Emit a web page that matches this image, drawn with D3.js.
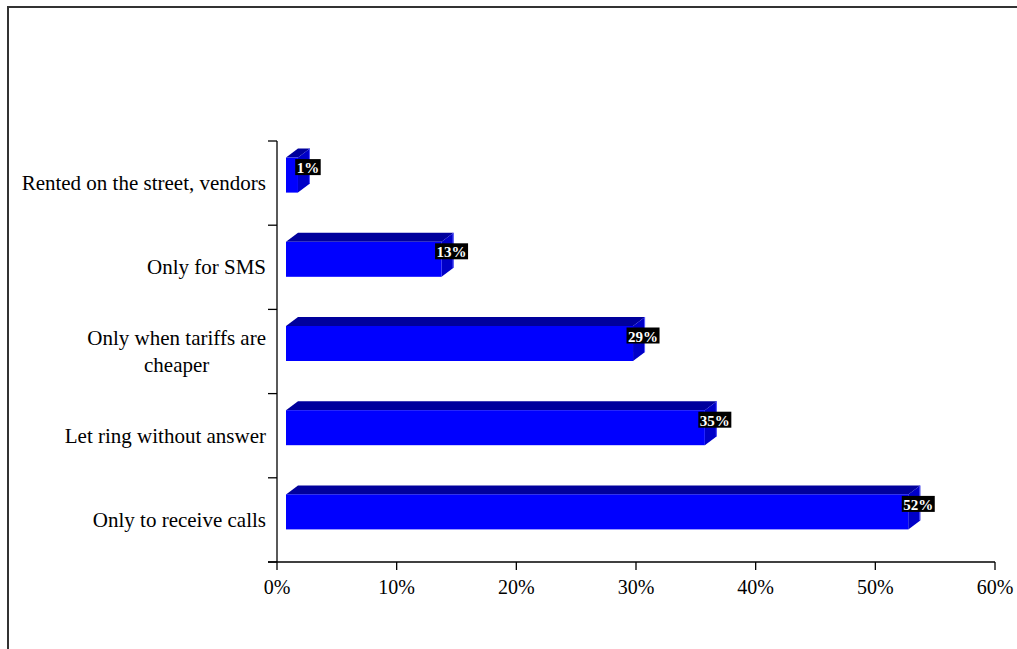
<!DOCTYPE html>
<html>
<head>
<meta charset="utf-8">
<script src="https://cdn.jsdelivr.net/npm/d3@7"></script>
<style>
  html, body { margin: 0; padding: 0; background: #fff; }
  svg { display: block; }
  text { font-family: "Liberation Serif", "Times New Roman", serif; }
</style>
</head>
<body>
<svg id="chart" width="1017" height="649"></svg>
<script>
// Reasons for using a mobile phone in a limited way (share of respondents)
const categories = [
  ["Rented on the street, vendors"],
  ["Only for SMS"],
  ["Only when tariffs are", "cheaper"],
  ["Let ring without answer"],
  ["Only to receive calls"]
];
const values = [1, 13, 29, 35, 52];
const xTicks = [0, 10, 20, 30, 40, 50, 60];

const svg = d3.select("#chart");
const W = 1017, H = 649;

// outer chart frame (only its top and left edges fall inside the view)
svg.append("rect")
  .attr("x", 8).attr("y", 7)
  .attr("width", W + 20).attr("height", H + 20)
  .attr("fill", "none").attr("stroke", "#333").attr("stroke-width", 2);

const plot = { left: 277, right: 995, top: 141, bottom: 562 };

const x = d3.scaleLinear().domain([0, 60]).range([plot.left, plot.right]);
const y = d3.scaleBand()
  .domain(d3.range(categories.length))
  .range([plot.top, plot.bottom])
  .paddingInner(0).paddingOuter(0);

// 3-D bar geometry
const depthX = 12, depthY = 9;     // receding offset of top/side faces
const frontH = 35;                 // height of the front face
const frontShift = 9;              // front face starts slightly right of the axis
const lift = 8;                    // bar sits a little above the band centre

const bars = svg.append("g").attr("class", "bars");
values.forEach((v, i) => {
  const cy = y(i) + y.bandwidth() / 2;
  const x0 = x(0) + frontShift;
  const x1 = x0 + (x(v) - x(0));
  const top = cy - lift - frontH / 2;
  const bot = top + frontH;
  const g = bars.append("g");
  // top face
  g.append("path")
    .attr("d", `M${x0},${top} L${x0 + depthX},${top - depthY} L${x1 + depthX},${top - depthY} L${x1},${top} Z`)
    .attr("fill", "#00009c");
  // side face
  g.append("path")
    .attr("d", `M${x1},${top} L${x1 + depthX},${top - depthY} L${x1 + depthX},${bot - depthY} L${x1},${bot} Z`)
    .attr("fill", "#0000c8");
  // front face
  g.append("rect")
    .attr("x", x0).attr("y", top)
    .attr("width", x1 - x0).attr("height", frontH)
    .attr("fill", "#0000ff");
  // light edge along the back top corner
  g.append("path")
    .attr("d", `M${x1 + depthX - 0.5},${top - depthY} L${x1 + depthX - 0.5},${bot - depthY}`)
    .attr("stroke", "#5a5aff").attr("stroke-width", 1).attr("fill", "none");
});

// axes
const axisColor = "#000";
const axisG = svg.append("g");
axisG.append("line")
  .attr("x1", plot.left).attr("x2", plot.left)
  .attr("y1", plot.top).attr("y2", plot.bottom)
  .attr("stroke", axisColor).attr("stroke-width", 1.3);
axisG.append("line")
  .attr("x1", plot.left - 9).attr("x2", plot.right)
  .attr("y1", plot.bottom).attr("y2", plot.bottom)
  .attr("stroke", axisColor).attr("stroke-width", 1.3);

// category boundary ticks
d3.range(categories.length + 1).forEach(i => {
  const yy = plot.top + i * y.step();
  axisG.append("line")
    .attr("x1", plot.left - 9).attr("x2", plot.left)
    .attr("y1", yy).attr("y2", yy)
    .attr("stroke", axisColor).attr("stroke-width", 1.3);
});

// value ticks and labels
xTicks.forEach(t => {
  axisG.append("line")
    .attr("x1", x(t)).attr("x2", x(t))
    .attr("y1", plot.bottom).attr("y2", plot.bottom + 8)
    .attr("stroke", axisColor).attr("stroke-width", 1.3);
  axisG.append("text")
    .attr("x", x(t)).attr("y", 594)
    .attr("text-anchor", "middle")
    .attr("font-size", 20)
    .attr("fill", "#000")
    .text(t + "%");
});

// category labels (multi-line labels centred on one another)
const lineH = 27;
categories.forEach((lines, i) => {
  const cy = y(i) + y.bandwidth() / 2;
  const t = svg.append("text")
    .attr("font-size", 21).attr("fill", "#000")
    .attr("text-anchor", "middle");
  const spans = lines.map((s, k) => t.append("tspan")
    .attr("x", 0)
    .attr("y", cy + (k - (lines.length - 1) / 2) * lineH)
    .attr("dominant-baseline", "central")
    .text(s));
  const wmax = d3.max(spans, sp => sp.node().getComputedTextLength());
  spans.forEach(sp => sp.attr("x", 266 - wmax / 2));
});

// value labels: white bold text on black boxes at the bar ends
values.forEach((v, i) => {
  const cy = y(i) + y.bandwidth() / 2;
  const x1 = x(0) + frontShift + (x(v) - x(0));
  const cx = x1 + 10;
  const ly = cy - lift - 8;
  const g = svg.append("g");
  const box = g.append("rect").attr("fill", "#000");
  const txt = g.append("text")
    .attr("x", cx).attr("y", ly + 1)
    .attr("text-anchor", "middle")
    .attr("dominant-baseline", "central")
    .attr("font-size", 15).attr("font-weight", "bold")
    .attr("fill", "#fff")
    .text(v + "%");
  const w = txt.node().getComputedTextLength() + 3;
  box.attr("x", cx - w / 2).attr("y", ly - 8).attr("width", w).attr("height", 16);
});
</script>
</body>
</html>
